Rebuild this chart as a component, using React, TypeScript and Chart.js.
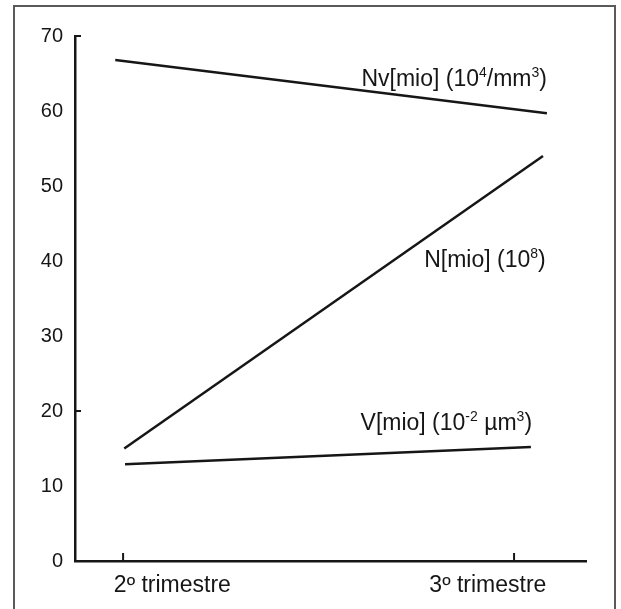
import { useEffect, useRef } from "react";
import { Chart, registerables } from "chart.js";

Chart.register(...registerables);

const FONT = '"Liberation Sans", Arial, Helvetica, sans-serif';
const INK = "#161616";

// categories and where their tick marks / labels sit on the x scale
const categories = ["2º trimestre", "3º trimestre"];
const categoryValues = [1, 2];
const categoryLabelAt = [1.126, 1.933];

// y axis
const yTickValues = [0, 10, 20, 30, 40, 50, 60, 70];
const yMarkValues = [70, 20];

// series (x in category units, y in axis units)
const nvX = [0.98, 2.084];
const nvY = [66.8, 59.7];
const nX = [1.003, 2.074];
const nY = [15.0, 54.0];
const vX = [1.005, 2.043];
const vY = [12.9, 15.2];

type Part = { t: string; sup?: boolean };
const seriesLabels: { parts: Part[]; x: number; y: number }[] = [
  {
    parts: [{ t: "Nv[mio] (10" }, { t: "4", sup: true }, { t: "/mm" }, { t: "3", sup: true }, { t: ")" }],
    x: 2.084,
    y: 63.3,
  },
  {
    parts: [{ t: "N[mio] (10" }, { t: "8", sup: true }, { t: ")" }],
    x: 2.081,
    y: 39.2,
  },
  {
    parts: [{ t: "V[mio] (10" }, { t: "-2", sup: true }, { t: " µm" }, { t: "3", sup: true }, { t: ")" }],
    x: 2.046,
    y: 17.5,
  },
];

const toPts = (xs: number[], ys: number[]) => xs.map((x, i) => ({ x, y: ys[i] }));

const decorPlugin = {
  id: "decor",
  afterDraw(chart: any) {
    const { ctx, scales } = chart;
    const xs = scales.x;
    const ys = scales.y;
    ctx.save();
    ctx.strokeStyle = INK;
    ctx.lineWidth = 2;
    const y0 = ys.getPixelForValue(0);
    categoryValues.forEach((v) => {
      const px = xs.getPixelForValue(v);
      ctx.beginPath();
      ctx.moveTo(px, y0);
      ctx.lineTo(px, y0 - 8);
      ctx.stroke();
    });
    const x0 = xs.left;
    yMarkValues.forEach((v) => {
      const py = ys.getPixelForValue(v);
      ctx.beginPath();
      ctx.moveTo(x0, py);
      ctx.lineTo(x0 + 6, py);
      ctx.stroke();
    });

    ctx.fillStyle = INK;
    ctx.textBaseline = "alphabetic";
    ctx.textAlign = "left";
    const big = `23px ${FONT}`;
    const small = `14px ${FONT}`;
    seriesLabels.forEach((lab) => {
      let total = 0;
      lab.parts.forEach((p) => {
        ctx.font = p.sup ? small : big;
        total += ctx.measureText(p.t).width;
      });
      let cx = xs.getPixelForValue(lab.x) - total;
      const by = ys.getPixelForValue(lab.y);
      lab.parts.forEach((p) => {
        ctx.font = p.sup ? small : big;
        ctx.fillText(p.t, cx, p.sup ? by - 9 : by);
        cx += ctx.measureText(p.t).width;
      });
    });
    ctx.restore();
  },
};

export default function App() {
  const ref = useRef<HTMLCanvasElement>(null);
  useEffect(() => {
    document.body.style.margin = "0";
    const line = (xs: number[], ys: number[]) => ({
      data: toPts(xs, ys),
      borderColor: INK,
      borderWidth: 2.5,
      pointRadius: 0,
      fill: false,
      tension: 0,
    });
    const chart = new Chart(ref.current as HTMLCanvasElement, {
      type: "line",
      data: {
        datasets: [line(nvX, nvY), line(nX, nY), line(vX, vY)] as any,
      },
      options: {
        animation: false,
        responsive: false,
        maintainAspectRatio: false,
        layout: { padding: { top: 36, right: 35, left: 0, bottom: 0 } },
        plugins: { legend: { display: false }, tooltip: { enabled: false } },
        scales: {
          x: {
            type: "linear",
            min: 0.877,
            max: 2.184,
            grid: { display: true, drawOnChartArea: false, drawTicks: false },
            border: { display: true, color: INK, width: 2.5 },
            afterBuildTicks: (s: any) => {
              s.ticks = categoryLabelAt.map((v) => ({ value: v }));
            },
            afterFit: (s: any) => {
              s.height = 48;
            },
            ticks: {
              autoSkip: false,
              maxRotation: 0,
              padding: 11,
              color: INK,
              font: { family: FONT, size: 23 },
              callback: (_v: any, i: number) => categories[i],
            },
          },
          y: {
            type: "linear",
            min: 0,
            max: 70,
            grid: { display: true, drawOnChartArea: false, drawTicks: false },
            border: { display: true, color: INK, width: 2.5 },
            afterBuildTicks: (s: any) => {
              s.ticks = yTickValues.map((v) => ({ value: v }));
            },
            afterFit: (s: any) => {
              s.width = 75;
            },
            ticks: {
              padding: 12,
              color: INK,
              font: { family: FONT, size: 20 },
            },
          },
        },
      },
      plugins: [decorPlugin],
    });
    return () => chart.destroy();
  }, []);

  return (
    <div style={{ position: "relative", width: 621, height: 609, overflow: "hidden", background: "#fff" }}>
      <div
        style={{
          position: "absolute",
          left: 13,
          top: 5,
          width: 603,
          height: 620,
          border: "2px solid #5a5a5a",
          boxSizing: "border-box",
        }}
      />
      <canvas ref={ref} width={621} height={609} style={{ position: "absolute", left: 0, top: 0 }} />
    </div>
  );
}
